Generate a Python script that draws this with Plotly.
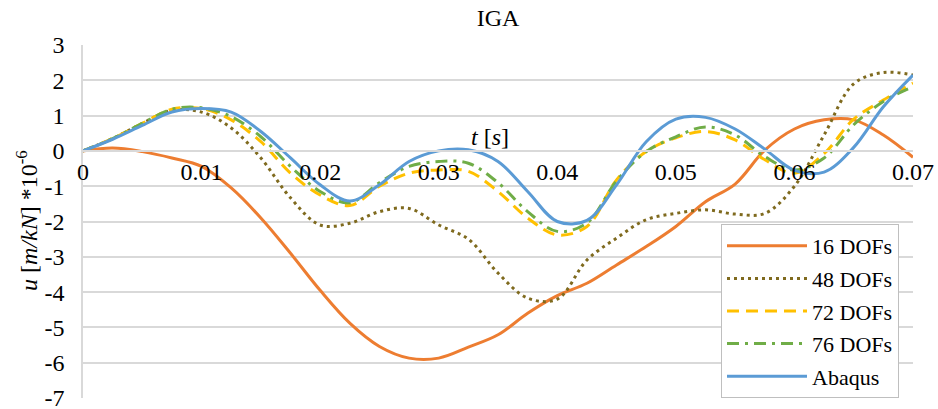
import plotly.graph_objects as go

# Time samples [s]
t = [0.0, 0.0025, 0.005, 0.0075, 0.01, 0.0125, 0.015, 0.0175, 0.02, 0.0225,
     0.025, 0.0275, 0.03, 0.0325, 0.035, 0.0375, 0.04, 0.0425, 0.045, 0.0475,
     0.05, 0.0525, 0.055, 0.0575, 0.06, 0.0625, 0.065, 0.0675, 0.07]

# Displacement u [m/kN] * 1e-6 for each model
u_16 = [0.0, 0.08, -0.02, -0.2, -0.44, -1.05, -1.9, -2.9, -3.95, -4.88,
        -5.54, -5.87, -5.87, -5.56, -5.21, -4.6, -4.1, -3.75, -3.23, -2.71,
        -2.14, -1.44, -0.94, 0.02, 0.62, 0.88, 0.88, 0.45, -0.18]
u_48 = [0.0, 0.35, 0.78, 1.15, 1.1, 0.65, -0.2, -1.33, -2.1, -2.05,
        -1.72, -1.63, -2.1, -2.5, -3.46, -4.17, -4.2, -3.09, -2.47, -1.95,
        -1.77, -1.67, -1.79, -1.77, -1.0, 0.45, 1.9, 2.22, 2.15]
u_72 = [0.0, 0.35, 0.78, 1.18, 1.2, 0.88, 0.26, -0.63, -1.25, -1.55,
        -1.0, -0.63, -0.54, -0.58, -1.15, -1.9, -2.38, -2.14, -0.82, -0.02,
        0.37, 0.55, 0.31, -0.25, -0.63, -0.08, 0.9, 1.44, 1.92]
u_76 = [0.0, 0.35, 0.78, 1.18, 1.22, 0.97, 0.4, -0.44, -1.15, -1.47,
        -0.9, -0.44, -0.3, -0.35, -0.9, -1.72, -2.28, -2.04, -0.85, -0.02,
        0.4, 0.68, 0.45, -0.16, -0.54, -0.2, 0.74, 1.4, 1.82]
u_abaqus = [0.0, 0.33, 0.72, 1.1, 1.2, 1.1, 0.55, -0.2, -0.96, -1.42,
            -0.96, -0.3, 0.0, 0.03, -0.3, -1.15, -2.0, -1.97, -0.96, 0.26,
            0.9, 0.95, 0.62, 0.05, -0.55, -0.6, 0.1, 1.25, 2.15]

series_names = ["16 DOFs", "48 DOFs", "72 DOFs", "76 DOFs", "Abaqus"]
series_values = [u_16, u_48, u_72, u_76, u_abaqus]
series_colors = ["#ED7D31", "#7F6A1E", "#FFC000", "#70AD47", "#5B9BD5"]
series_dash = ["solid", "3px,4px", "12px,7px", "12px,6px,3px,6px", "solid"]

x_tick_vals = [0, 0.01, 0.02, 0.03, 0.04, 0.05, 0.06, 0.07]
x_tick_text = ["0", "0.01", "0.02", "0.03", "0.04", "0.05", "0.06", "0.07"]
y_tick_vals = [3, 2, 1, 0, -1, -2, -3, -4, -5, -6, -7]
y_tick_text = ["3", "2", "1", "0", "-1", "-2", "-3", "-4", "-5", "-6", "-7"]

FONT = "Liberation Serif"
FS = 24
GRID = "#D9D9D9"

# plot area in pixels: left 83, right 913, top 45, bottom 398
PL, PR, PT, PB = 83, 913, 45, 398
PW, PH = PR - PL, PB - PT

fig = go.Figure()
for i, (name, vals, col, dash) in enumerate(
        zip(series_names, series_values, series_colors, series_dash)):
    fig.add_trace(go.Scatter(
        x=t, y=vals, name=name, mode="lines",
        line=dict(color=col, width=3, dash=dash, shape="spline", smoothing=1.0),
        legendgroup=f"g{i}",
    ))

fig.update_layout(
    width=938, height=409,
    margin=dict(l=PL, r=938 - PR, t=PT, b=409 - PB, autoexpand=False),
    paper_bgcolor="white", plot_bgcolor="white",
    font=dict(family=FONT, size=FS, color="black"),
    title=dict(text="IGA", x=0.5, xref="paper", xanchor="center",
               y=1 - 18 / 409, yref="container", yanchor="middle",
               font=dict(family=FONT, size=FS, color="black")),
    xaxis=dict(
        range=[0, 0.07], tickvals=x_tick_vals, ticktext=x_tick_text,
        anchor="free", position=0.7, showgrid=False,
        showline=True, linecolor=GRID, linewidth=1.5,
        zeroline=False, ticks="", tickfont=dict(family=FONT, size=FS),
    ),
    yaxis=dict(
        range=[-7, 3], tickvals=y_tick_vals, ticktext=y_tick_text,
        showgrid=True, gridcolor=GRID, gridwidth=1.5,
        showline=True, linecolor=GRID, linewidth=1.5,
        zeroline=False, ticks="", ticklabelstandoff=12,
        ticklabeloverflow="allow",
        tickfont=dict(family=FONT, size=FS),
    ),
    legend=dict(
        x=(721 - PL) / PW, y=(PB - 224) / PH, xanchor="left", yanchor="top",
        bgcolor="white", bordercolor="#BFBFBF", borderwidth=1,
        font=dict(family=FONT, size=22), traceorder="grouped",
        tracegroupgap=1, itemwidth=80,
    ),
    showlegend=True,
)

# axis titles
fig.add_annotation(
    text="<i>t</i> [<i>s</i>]", xref="paper", yref="paper",
    x=(490 - PL) / PW, y=(PB - 137) / PH, xanchor="center", yanchor="middle",
    showarrow=False, font=dict(family=FONT, size=FS, color="black"),
)
fig.add_annotation(
    text="<i>u</i> [<i>m/kN</i>] *10<sup>-6</sup>", xref="paper", yref="paper",
    x=(27 - PL) / PW, y=(PB - 221) / PH, xanchor="center", yanchor="middle",
    textangle=-90, showarrow=False,
    font=dict(family=FONT, size=FS, color="black"),
)

fig.write_html("out.html")
